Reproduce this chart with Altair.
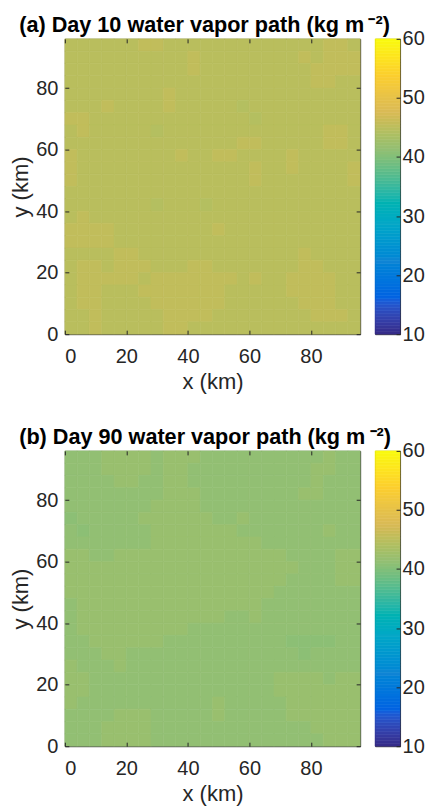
import altair as alt
import pandas as pd

# ---------------- data ----------------
DOMAIN_KM = [0, 96]
CELL_KM = 4
AXIS_TICKS = [0, 20, 40, 60, 80]
CBAR_TICKS = [10, 20, 30, 40, 50, 60]
CBAR_LIMITS = [10, 60]
CBAR_STEP = 0.5

# parula colour map, 9 stops across the 10-60 colour limits
PARULA_STOPS = [10, 16.25, 22.5, 28.75, 35, 41.25, 47.5, 53.75, 60]
PARULA_COLORS = ["#352A87", "#0363E1", "#1485D4", "#06A7C6", "#38B99E",
                 "#92BF73", "#D9BA56", "#FCCE2E", "#F9FB0E"]

TITLE_A = "(a) Day 10 water vapor path (kg m\u2009\u207b\u00b2)"
# estimated water vapour path per code (kg m-2)
LEVELS_A = {"0": 44.9, "1": 45.5, "2": 44.4}
# 24 x 24 grid of 4 km cells, first row = top (y 92-96 km)
ROWS_A = [
    "000000110000000000000110",
    "000000000010000000010111",
    "000000000010000000001111",
    "000000000000000000001100",
    "000000001000000000000000",
    "000100001000002000000000",
    "110000000000000200000000",
    "010000020000000000000110",
    "000000000000001100000110",
    "100000000100110000100000",
    "100000000000000100100001",
    "100000000000000100000001",
    "000000000000000000000000",
    "000000020002000000000000",
    "010000000000000000000000",
    "111100000000100000000000",
    "111100000000000000000000",
    "000011000000000000010000",
    "011011100011000000011000",
    "011111011111110100111100",
    "011000111111100000111100",
    "011000011111100000011100",
    "001000001111000000001110",
    "001000001100000000000000",
]

TITLE_B = "(b) Day 90 water vapor path (kg m\u2009\u207b\u00b2)"
LEVELS_B = {"0": 41.3, "1": 42.0, "2": 40.8}
ROWS_B = [
    "000111101110000000000100",
    "000111101100000000001100",
    "000011001100000000001000",
    "000000001110000000011000",
    "000000011110000000000000",
    "200000111111001000000000",
    "020000011111110000000100",
    "000000011111111100000000",
    "110011111111111111000011",
    "111111111111111111100011",
    "111111111111111111000011",
    "111111111111111110000000",
    "011111111111111100000000",
    "011111111111100100000000",
    "011111111100000000000000",
    "001111110000000000222200",
    "000110000000000000020000",
    "100010000000000000000000",
    "110000000000000001111011",
    "110000000000000001111111",
    "100000000000100000111111",
    "000011100000100000111111",
    "000111100000000000001111",
    "000111100000000000000111",
]

# ---------------- styling ----------------
PW = PH = 296
CBW = 25
FONT = "Liberation Sans"
AXC = "#262626"

color_scale = alt.Scale(domain=PARULA_STOPS, range=PARULA_COLORS, clamp=True)


def grid_frame(rows, levels):
    recs = []
    for r, row in enumerate(rows):
        assert len(row) == 24, (r, len(row))
        for c, ch in enumerate(row):
            recs.append({
                "x0": c * CELL_KM, "x1": (c + 1) * CELL_KM,
                "y0": DOMAIN_KM[1] - (r + 1) * CELL_KM,
                "y1": DOMAIN_KM[1] - r * CELL_KM,
                "wvp": levels[ch],
            })
    return pd.DataFrame(recs)


def heat_panel(rows, levels):
    df = grid_frame(rows, levels)
    xs = alt.Scale(domain=DOMAIN_KM, nice=False, zero=False)
    ys = alt.Scale(domain=DOMAIN_KM, nice=False, zero=False)
    base = alt.Chart(df)
    heat = base.mark_rect(strokeWidth=0.6).encode(
        x=alt.X("x0:Q", scale=xs, axis=alt.Axis(
            orient="bottom", values=AXIS_TICKS, title="x (km)", tickSize=0,
            labelPadding=12, domain=False, grid=False, titlePadding=5)),
        x2="x1:Q",
        y=alt.Y("y0:Q", scale=ys, axis=alt.Axis(
            orient="left", values=AXIS_TICKS, title="y (km)", tickSize=0,
            labelPadding=7, domain=False, grid=False, titlePadding=3)),
        y2="y1:Q",
        color=alt.Color("wvp:Q", scale=color_scale, legend=None),
        stroke=alt.Stroke("wvp:Q", scale=color_scale, legend=None),
    )
    # inward tick marks on bottom/left edges
    ticks_lo = base.mark_rect(opacity=0).encode(
        x=alt.X("x0:Q", scale=xs, axis=alt.Axis(
            orient="top", offset=-PH, values=AXIS_TICKS, labels=False,
            domain=False, grid=False, title=None, tickSize=4,
            tickColor=AXC, zindex=2)),
        x2="x1:Q",
        y=alt.Y("y0:Q", scale=ys, axis=alt.Axis(
            orient="right", offset=-PW, values=AXIS_TICKS, labels=False,
            domain=False, grid=False, title=None, tickSize=4,
            tickColor=AXC, zindex=2)),
        y2="y1:Q",
    )
    # inward tick marks on top/right edges
    ticks_hi = base.mark_rect(opacity=0).encode(
        x=alt.X("x0:Q", scale=xs, axis=alt.Axis(
            orient="bottom", offset=-PH, values=AXIS_TICKS, labels=False,
            domain=False, grid=False, title=None, tickSize=4,
            tickColor=AXC, zindex=2)),
        x2="x1:Q",
        y=alt.Y("y0:Q", scale=ys, axis=alt.Axis(
            orient="left", offset=-PW, values=AXIS_TICKS, labels=False,
            domain=False, grid=False, title=None, tickSize=4,
            tickColor=AXC, zindex=2)),
        y2="y1:Q",
    )
    return alt.layer(heat, ticks_lo, ticks_hi).resolve_axis(
        x="independent", y="independent"
    ).properties(width=PW, height=PH)


def colorbar():
    n = int((CBAR_LIMITS[1] - CBAR_LIMITS[0]) / CBAR_STEP)
    lo = [CBAR_LIMITS[0] + i * CBAR_STEP for i in range(n)]
    cb = pd.DataFrame({
        "lo": lo,
        "hi": [v + CBAR_STEP for v in lo],
        "mid": [v + CBAR_STEP / 2 for v in lo],
        "k": ["cb"] * n,
    })
    ysc = alt.Scale(domain=CBAR_LIMITS, nice=False, zero=False)
    xsc = alt.Scale(paddingInner=0, paddingOuter=0)
    bar = alt.Chart(cb).mark_rect(strokeWidth=0.6).encode(
        x=alt.X("k:N", axis=None, scale=xsc),
        y=alt.Y("lo:Q", scale=ysc, axis=alt.Axis(
            orient="right", values=CBAR_TICKS, tickSize=0, labelPadding=2,
            domain=False, grid=False, title=None)),
        y2="hi:Q",
        color=alt.Color("mid:Q", scale=color_scale, legend=None),
        stroke=alt.Stroke("mid:Q", scale=color_scale, legend=None),
    )
    tk = alt.Chart(cb).mark_rect(opacity=0).encode(
        x=alt.X("k:N", axis=None, scale=xsc),
        y=alt.Y("lo:Q", scale=ysc, axis=alt.Axis(
            orient="left", offset=-CBW, values=CBAR_TICKS, labels=False,
            domain=False, grid=False, title=None, tickSize=4,
            tickColor=AXC, zindex=2)),
        y2="hi:Q",
    )
    return alt.layer(bar, tk).resolve_axis(y="independent").properties(
        width=CBW, height=PH)


def panel_row(rows, levels, title):
    return alt.hconcat(heat_panel(rows, levels), colorbar(), spacing=13).properties(
        title=alt.TitleParams(title, anchor="start", offset=-8, dx=10)
    )


row_a = panel_row(ROWS_A, LEVELS_A, TITLE_A)
row_b = panel_row(ROWS_B, LEVELS_B, TITLE_B)

chart = alt.vconcat(row_a, row_b, spacing=33).properties(
    padding={"left": 9, "top": 13, "right": 0, "bottom": 0}
).configure_view(
    stroke=AXC, strokeWidth=1
).configure_axis(
    labelFont=FONT, titleFont=FONT, labelFontSize=20, titleFontSize=22,
    labelColor=AXC, titleColor=AXC, titleFontWeight="normal",
).configure_title(
    font=FONT, fontSize=21.7, fontWeight="bold", color="black",
)

chart.save("out.html", embed_options={"renderer": "svg", "actions": False})
